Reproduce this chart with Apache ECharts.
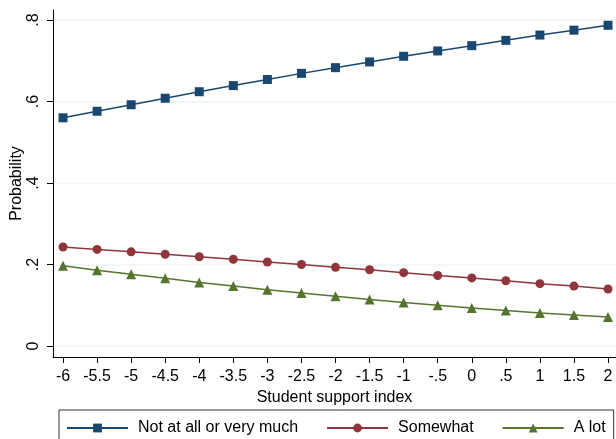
<!DOCTYPE html>
<html>
<head>
<meta charset="utf-8">
<script src="https://cdn.jsdelivr.net/npm/echarts@6/dist/echarts.min.js"></script>
<style>html,body{margin:0;padding:0;background:#fff}#c{width:616px;height:439px}</style>
</head>
<body>
<div id="c"></div>
<script>
const xValues = [-6,-5.5,-5,-4.5,-4,-3.5,-3,-2.5,-2,-1.5,-1,-0.5,0,0.5,1,1.5,2];
const notAtAll = [0.560,0.576,0.592,0.608,0.624,0.639,0.654,0.669,0.683,0.697,0.711,0.724,0.737,0.750,0.763,0.775,0.787];
const somewhat = [0.243,0.237,0.231,0.225,0.219,0.213,0.206,0.200,0.193,0.187,0.180,0.173,0.167,0.160,0.153,0.147,0.140];
const aLot = [0.197,0.186,0.176,0.166,0.156,0.147,0.138,0.130,0.122,0.114,0.107,0.100,0.093,0.087,0.081,0.076,0.071];
const seriesNames = ['Not at all or very much','Somewhat','A lot'];
const yTicks = [0,0.2,0.4,0.6,0.8];
const xTicks = [-6,-5.5,-5,-4.5,-4,-3.5,-3,-2.5,-2,-1.5,-1,-0.5,0,0.5,1,1.5,2];

const fmt = v => String(v).replace(/^(-?)0\./,'$1.');
const pairs = arr => xValues.map((x,i)=>[x,arr[i]]);
const FONT = 'Liberation Sans, Arial, sans-serif';

const chart = echarts.init(document.getElementById('c'), null, {renderer:'canvas'});
const mk = (name, data, color, symbol, size) => ({
  name, type:'line', data: pairs(data), symbol, symbolSize:size,
  lineStyle:{color, width:1.5}, itemStyle:{color}, animation:false
});
chart.setOption({
  animation:false,
  grid:{left:53, right:0, top:10, bottom:82},
  xAxis:{
    type:'value', min:-6.147, max:2.117,
    name:'Student support index', nameLocation:'middle', nameGap:27,
    nameTextStyle:{fontFamily:FONT, fontSize:16, color:'#000'},
    axisLine:{onZero:false, lineStyle:{color:'#000', width:1}},
    axisTick:{show:true, length:6, lineStyle:{color:'#000'}, customValues:xTicks},
    axisLabel:{customValues:xTicks, formatter:fmt, fontFamily:FONT, fontSize:16, color:'#000', margin:12},
    splitLine:{show:false}
  },
  yAxis:{
    type:'value', min:-0.027, max:0.8245,
    name:'Probability', nameLocation:'middle', nameGap:28, nameRotate:90, nameMoveOverlap:false,
    nameTextStyle:{fontFamily:FONT, fontSize:16, color:'#000'},
    axisLine:{show:true, onZero:false, lineStyle:{color:'#000', width:1}},
    axisTick:{show:true, length:6, lineStyle:{color:'#000'}, customValues:yTicks},
    axisLabel:{customValues:yTicks, formatter:fmt, rotate:90, fontFamily:FONT, fontSize:16, color:'#000', margin:11},
    splitLine:{show:true, lineStyle:{color:'#edf3f4', width:1.5}}
  },
  legend:{
    data:seriesNames, left:59, top:410, orient:'horizontal',
    itemWidth:61, itemHeight:11, itemGap:28,
    padding:[10,8,20,7],
    borderColor:'#333', borderWidth:1,
    textStyle:{fontFamily:FONT, fontSize:16, color:'#000', padding:[0,0,0,5]}
  },
  series:[
    mk(seriesNames[0], notAtAll, '#1a476f', 'rect', 9),
    mk(seriesNames[1], somewhat, '#90353b', 'circle', 9),
    mk(seriesNames[2], aLot, '#55752f', 'triangle', 10)
  ]
});
</script>
</body>
</html>
